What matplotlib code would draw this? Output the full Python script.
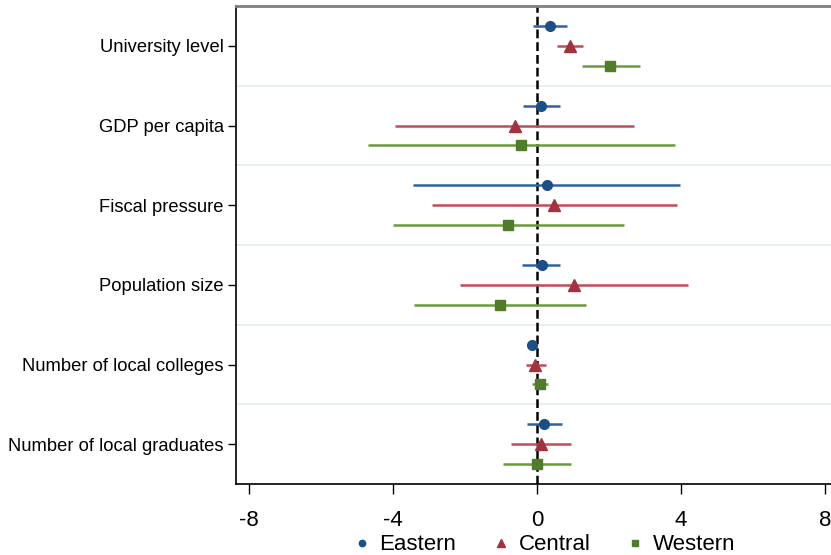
import matplotlib
matplotlib.use("Agg")
import matplotlib.pyplot as plt
import numpy as np

plt.rcParams['font.family'] = ['Liberation Sans', 'DejaVu Sans']

variables = ["University level", "GDP per capita", "Fiscal pressure",
             "Population size", "Number of local colleges", "Number of local graduates"]
regions = ["Eastern", "Central", "Western"]

# point estimates and 95% CI per region, in the order of `variables`
eastern = [0.36, 0.11, 0.27, 0.13, -0.15, 0.19]
eastern_lo = [-0.10, -0.38, -3.45, -0.41, -0.20, -0.27]
eastern_hi = [0.84, 0.64, 3.97, 0.64, -0.10, 0.69]

central = [0.92, -0.61, 0.48, 1.03, -0.06, 0.10]
central_lo = [0.55, -3.93, -2.91, -2.14, -0.29, -0.73]
central_hi = [1.29, 2.69, 3.88, 4.20, 0.24, 0.94]

western = [2.03, -0.43, -0.80, -1.03, 0.08, 0.01]
western_lo = [1.24, -4.69, -4.01, -3.41, -0.15, -0.94]
western_hi = [2.86, 3.83, 2.42, 1.35, 0.31, 0.94]

xticks = [-8, -4, 0, 4, 8]

series = [
    (eastern, eastern_lo, eastern_hi, "o", "#1b4f86", "#2f62a0", 7),
    (central, central_lo, central_hi, "^", "#a3323e", "#c24b5a", 8),
    (western, western_lo, western_hi, "s", "#4f7d28", "#6b9a3c", 7),
]
offsets = [-0.25, 0.0, 0.25]

fig = plt.figure(figsize=(8.31, 5.55), dpi=100)
ax = fig.add_axes([236 / 831, 1 - 484 / 555, 1 - 236 / 831, (484 - 6) / 555])

ypos = np.arange(len(variables))
for (est, lo, hi, mk, mc, lc, ms), off, name in zip(series, offsets, regions):
    y = ypos + off
    ax.hlines(y, lo, hi, color=lc, lw=1.8, zorder=3)
    ax.plot(est, y, linestyle="none", marker=mk, color=mc, ms=ms, zorder=4, label=name)

# group separators
for b in np.arange(0.5, len(variables) - 0.5, 1):
    ax.axhline(b, color="#e3edf2", lw=1.2, zorder=1)

ax.axvline(0, color="black", lw=1.8, ls=(0, (3.5, 1.6)), zorder=2)

ax.set_xlim(-8.36, 8.17)
ax.set_ylim(len(variables) - 0.5, -0.5)
ax.set_yticks(ypos)
ax.set_yticklabels(variables, fontsize=13.2)
ax.set_xticks(xticks)
ax.set_xticklabels([str(t) for t in xticks], fontsize=16)
ax.tick_params(axis="y", length=6, width=1, pad=3)
ax.tick_params(axis="x", length=7, width=1, pad=12)

ax.spines["top"].set_color("#808080")
ax.spines["top"].set_linewidth(2)
ax.spines["right"].set_visible(False)
ax.spines["left"].set_linewidth(1.2)
ax.spines["bottom"].set_linewidth(1.2)

fig.legend(*ax.get_legend_handles_labels(), loc="center",
           bbox_to_anchor=(544 / 831, 1 - 545 / 555), ncol=3, frameon=False,
           fontsize=16, markerscale=0.65, handletextpad=0.4, columnspacing=1.6,
           handlelength=0.8, borderpad=0)

fig.savefig("out.png", dpi=100)
